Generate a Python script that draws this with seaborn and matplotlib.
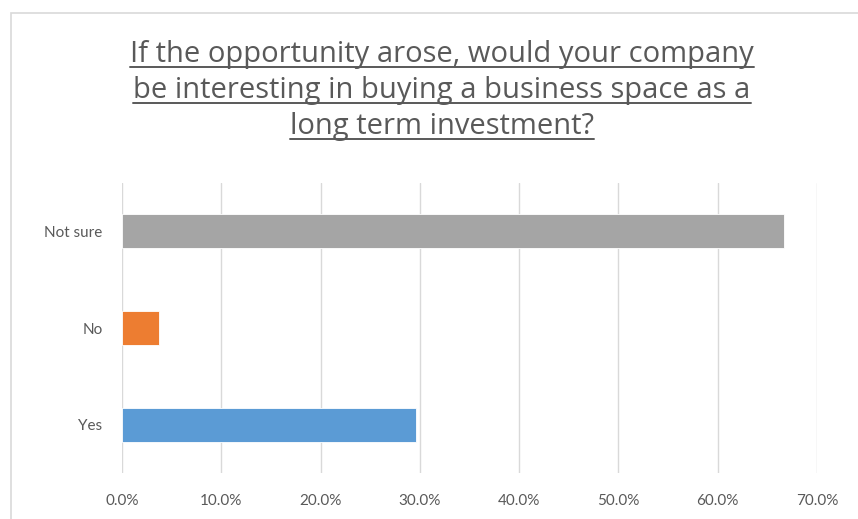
import pandas as pd
import matplotlib.pyplot as plt
import seaborn as sns
from matplotlib.patches import Rectangle
from matplotlib.ticker import PercentFormatter

# === 数据 ===
answers = ["Not sure", "No", "Yes"]
shares = [0.667, 0.037, 0.296]
colors = ["#A5A5A5", "#ED7D31", "#5B9BD5"]
title_lines = [
    "If the opportunity arose, would your company",
    "be interesting in buying a business space as a",
    "long term investment?",
]

df = pd.DataFrame({"answer": answers, "share": shares})

sns.set_style("white")
plt.rcParams['font.family'] = ['Lato', 'DejaVu Sans']

fig = plt.figure(figsize=(8.58, 5.19), dpi=100)
ax = fig.add_axes([0.1422, 0.0886, 0.81, 0.5588])

sns.barplot(data=df, y="answer", x="share", hue="answer", order=answers,
            palette=dict(zip(answers, colors)), width=0.35, legend=False,
            orient="h", ax=ax, saturation=1, edgecolor="white", linewidth=0.6)

ax.set_xlim(0, 0.7)
ax.set_ylim(2.5, -0.5)
ax.set_xticks([i / 10 for i in range(8)])
ax.xaxis.set_major_formatter(PercentFormatter(1.0, decimals=1))
ax.grid(axis="x", color="#D9D9D9", linewidth=1)
ax.set_axisbelow(True)
for s in ax.spines.values():
    s.set_visible(False)
ax.tick_params(axis="both", length=0, labelsize=11, colors="#595959", pad=14)
ax.tick_params(axis="x", pad=15)
ax.set_xlabel("")
ax.set_ylabel("")

# 外框
fig.patches.append(Rectangle((11 / 858, -0.1), 1.2, 1 - 13 / 519 + 0.1,
                             transform=fig.transFigure, fill=False,
                             edgecolor="#D9D9D9", linewidth=1.2))

# 标题（带下划线）
baselines = [62, 98, 134]
texts = []
for line, y in zip(title_lines, baselines):
    t = fig.text(442 / 858, 1 - y / 519, line, ha="center", va="baseline",
                 fontsize=21, color="#595959", family=['Open Sans', 'DejaVu Sans'])
    texts.append((t, y))

fig.canvas.draw()
r = fig.canvas.get_renderer()
inv = fig.transFigure.inverted()
for t, y in texts:
    bb = t.get_window_extent(r)
    (x0, _), (x1, _) = inv.transform([(bb.x0, bb.y0), (bb.x1, bb.y1)])
    yl = 1 - (y + 5) / 519
    fig.add_artist(plt.Line2D([x0, x1], [yl, yl], transform=fig.transFigure,
                              color="#595959", linewidth=1.4))

fig.savefig("out.png", dpi=100)
